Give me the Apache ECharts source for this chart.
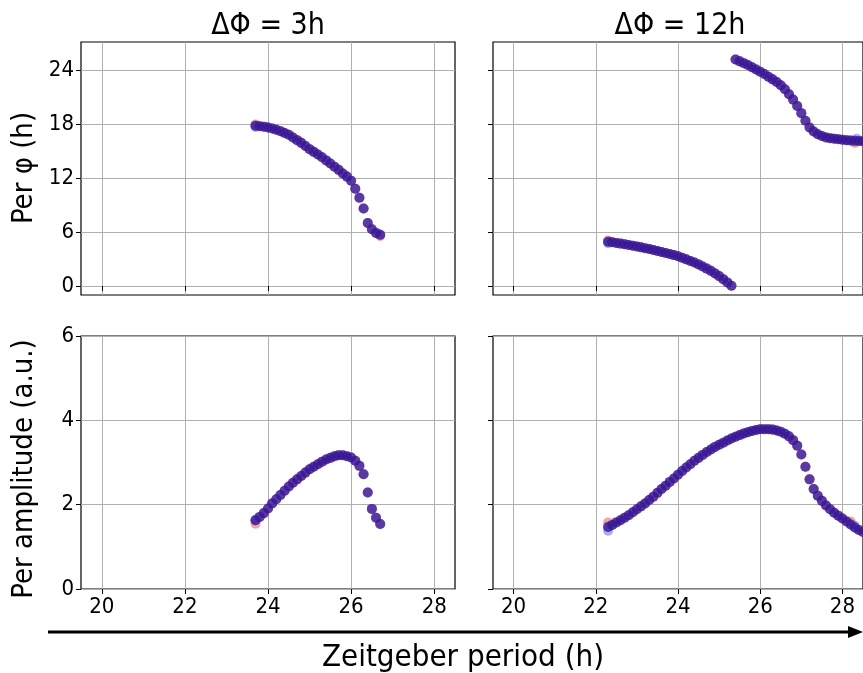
<!DOCTYPE html>
<html><head><meta charset="utf-8">
<script src="https://cdn.jsdelivr.net/npm/echarts@6/dist/echarts.min.js"></script>
<style>html,body{margin:0;padding:0;background:#fff}#c{width:863px;height:673px}</style>
</head><body><div id="c"></div><script>
// ---- data ----
const panelTitles = ['ΔΦ = 3h', 'ΔΦ = 12h'];
const xTicks = [20, 22, 24, 26, 28];
const perTicks = [0, 6, 12, 18, 24];
const ampTicks = [0, 2, 4, 6];

const xLeft = [23.7,23.8,23.9,24.0,24.1,24.2,24.3,24.4,24.5,24.6,24.7,24.8,24.9,25.0,25.1,25.2,25.3,25.4,25.5,25.6,25.7,25.8,25.9,26.0,26.1,26.2,26.3,26.4,26.5,26.6,26.7];
const perLeft = [17.8,17.75,17.7,17.6,17.5,17.35,17.2,17.0,16.8,16.5,16.2,15.9,15.55,15.2,14.9,14.6,14.3,13.95,13.6,13.25,12.9,12.5,12.15,11.7,10.8,9.8,8.6,7.0,6.3,5.9,5.7];
const ampLeft = [1.63,1.71,1.80,1.91,2.03,2.13,2.23,2.33,2.43,2.52,2.60,2.68,2.76,2.84,2.90,2.96,3.02,3.07,3.11,3.15,3.17,3.17,3.15,3.12,3.04,2.92,2.72,2.29,1.90,1.69,1.54];

const xRightLow = [22.3,22.4,22.5,22.6,22.7,22.8,22.9,23.0,23.1,23.2,23.3,23.4,23.5,23.6,23.7,23.8,23.9,24.0,24.1,24.2,24.3,24.4,24.5,24.6,24.7,24.8,24.9,25.0,25.1,25.2,25.3];
const perRightLow = [4.92,4.85,4.78,4.71,4.63,4.55,4.47,4.38,4.29,4.20,4.10,4.00,3.89,3.78,3.67,3.55,3.43,3.30,3.13,2.96,2.78,2.60,2.40,2.17,1.93,1.68,1.40,1.10,0.76,0.40,0.02];
const xRightHigh = [25.4,25.5,25.6,25.7,25.8,25.9,26.0,26.1,26.2,26.3,26.4,26.5,26.6,26.7,26.8,26.9,27.0,27.1,27.2,27.3,27.4,27.5,27.6,27.7,27.8,27.9,28.0,28.1,28.2,28.3,28.4,28.5];
const perRightHigh = [25.15,24.95,24.75,24.55,24.3,24.05,23.8,23.55,23.25,22.95,22.65,22.3,21.85,21.3,20.7,20.0,19.2,18.35,17.6,17.15,16.85,16.65,16.5,16.42,16.35,16.3,16.25,16.2,16.17,16.12,16.1,16.08];
const xRight = xRightLow.concat(xRightHigh);
const ampRight = [1.47,1.52,1.58,1.63,1.69,1.75,1.82,1.89,1.96,2.03,2.11,2.19,2.28,2.37,2.45,2.54,2.62,2.71,2.80,2.88,2.96,3.04,3.11,3.18,3.25,3.31,3.37,3.42,3.47,3.52,3.57,3.61,3.65,3.69,3.72,3.75,3.77,3.79,3.79,3.79,3.78,3.76,3.73,3.68,3.62,3.53,3.40,3.19,2.90,2.60,2.37,2.21,2.09,1.98,1.89,1.81,1.74,1.67,1.60,1.53,1.46,1.40,1.35];

// points where the red / blue runs show out from under the purple one
const redExtra = {
  tl: [[23.7, 17.95], [26.7, 5.55]],
  bl: [[23.7, 1.55]],
  tr: [[22.3, 5.05], [28.3, 15.9]],
  br: [[22.3, 1.58], [28.2, 1.6]]
};
const blueExtra = {
  tl: [[23.7, 17.65]],
  bl: [[23.7, 1.64]],
  tr: [[22.3, 4.75], [28.35, 16.35]],
  br: [[22.3, 1.38], [28.3, 1.5]]
};

// ---- chart ----
const pairs = (xs, ys) => xs.map((x, i) => [x, ys[i]]);
const FONT = 'DejaVu Sans Condensed';
const PURPLE = 'rgba(55,20,143,0.82)';
const RED = 'rgba(225,70,70,0.6)';
const BLUE = 'rgba(70,90,240,0.6)';

const grids = [
  {left: 81, top: 42, width: 374, height: 253},
  {left: 493, top: 42, width: 374, height: 253},
  {left: 81, top: 336, width: 374, height: 253},
  {left: 493, top: 336, width: 374, height: 253}
].map(g => Object.assign({show: true, borderColor: '#000', borderWidth: 1.2, backgroundColor: 'transparent', containLabel: false}, g));

function xAx(i, showLabels) {
  return {
    type: 'value', gridIndex: i, min: 19.5, max: 28.5,
    axisLine: {show: false},
    axisTick: {show: true, customValues: xTicks, length: 5, lineStyle: {color: '#000', width: 1}},
    axisLabel: {show: showLabels, customValues: xTicks, fontSize: 22, color: '#000', fontFamily: FONT, margin: 7},
    splitLine: {show: true, lineStyle: {color: '#b0b0b0', width: 1}}
  };
}
function yAx(i, min, max, ticks, showLabels) {
  return {
    type: 'value', gridIndex: i, min: min, max: max,
    axisLine: {show: false},
    axisTick: {show: true, customValues: ticks, length: 5, lineStyle: {color: '#000', width: 1}},
    axisLabel: {show: showLabels, customValues: ticks, fontSize: 22, color: '#000', fontFamily: FONT, margin: 7},
    splitLine: {show: true, lineStyle: {color: '#b0b0b0', width: 1}}
  };
}

function sc(idx, data, color) {
  return {
    type: 'scatter', xAxisIndex: idx, yAxisIndex: idx, data: data,
    symbolSize: 10, itemStyle: {color: color}, silent: true, animation: false
  };
}

const panelData = [
  {key: 'tl', purple: pairs(xLeft, perLeft)},
  {key: 'tr', purple: pairs(xRightLow, perRightLow).concat(pairs(xRightHigh, perRightHigh))},
  {key: 'bl', purple: pairs(xLeft, ampLeft)},
  {key: 'br', purple: pairs(xRight, ampRight)}
];

const series = [];
panelData.forEach((p, i) => {
  series.push(sc(i, p.purple.concat(redExtra[p.key]), RED));
  series.push(sc(i, p.purple.concat(blueExtra[p.key]), BLUE));
  series.push(sc(i, p.purple, PURPLE));
});

const F = (px) => px + 'px "' + FONT + '", "DejaVu Sans"';
const option = {
  backgroundColor: '#fff',
  animation: false,
  grid: grids,
  xAxis: [xAx(0, false), xAx(1, false), xAx(2, true), xAx(3, true)],
  yAxis: [
    yAx(0, -1, 27.1, perTicks, true),
    yAx(1, -1, 27.1, perTicks, false),
    yAx(2, 0, 6, ampTicks, true),
    yAx(3, 0, 6, ampTicks, false)
  ],
  series: series,
  graphic: [
    {type: 'text', x: 268, y: 26, style: {text: panelTitles[0], font: F(30), fill: '#000', textAlign: 'center', textVerticalAlign: 'middle'}},
    {type: 'text', x: 680, y: 26, style: {text: panelTitles[1], font: F(30), fill: '#000', textAlign: 'center', textVerticalAlign: 'middle'}},
    {type: 'text', x: 24, y: 168, rotation: Math.PI / 2, style: {text: 'Per φ (h)', font: F(29), fill: '#000', textAlign: 'center', textVerticalAlign: 'middle'}},
    {type: 'text', x: 24, y: 469, rotation: Math.PI / 2, style: {text: 'Per amplitude (a.u.)', font: F(29), fill: '#000', textAlign: 'center', textVerticalAlign: 'middle'}},
    {type: 'line', shape: {x1: 48, y1: 632, x2: 852, y2: 632}, style: {stroke: '#000', lineWidth: 3}},
    {type: 'polygon', shape: {points: [[848, 626], [863, 632], [848, 638]]}, style: {fill: '#000'}},
    {type: 'text', x: 463, y: 658, style: {text: 'Zeitgeber period (h)', font: F(31), fill: '#000', textAlign: 'center', textVerticalAlign: 'middle'}}
  ]
};

const chart = echarts.init(document.getElementById('c'), null, {renderer: 'canvas', width: 863, height: 673});
chart.setOption(option);
</script></body></html>
